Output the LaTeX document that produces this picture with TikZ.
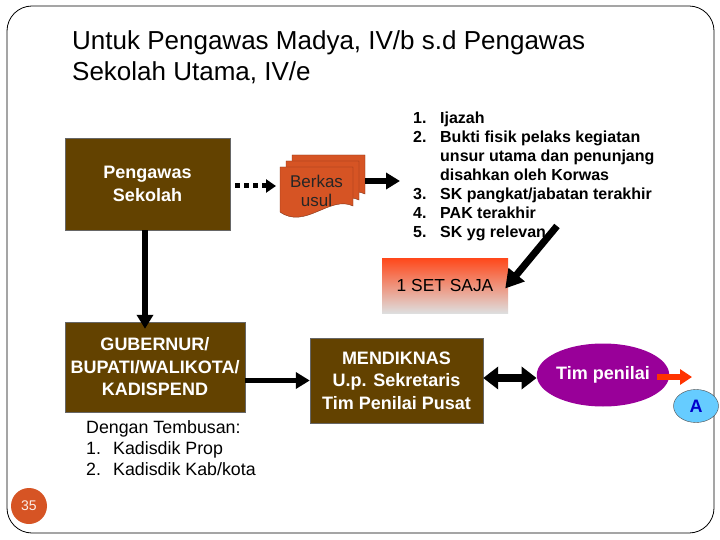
\documentclass[tikz,border=0pt]{standalone}
\usepackage{fontspec}
\setmainfont{Liberation Sans}
\usepackage{xcolor}
\usepackage{tikz}
\usetikzlibrary{arrows.meta,shapes.geometric}

\definecolor{coklat}{RGB}{99,66,0}
\definecolor{bata}{RGB}{214,84,36}
\definecolor{ungu}{RGB}{153,0,153}
\definecolor{biru}{RGB}{102,204,255}
\definecolor{merah}{RGB}{255,51,0}

\newcommand{\butir}[1]{\makebox[27pt][l]{#1}}

\begin{document}
\begin{tikzpicture}[x=1pt, y=-1pt,
    kotak/.style={draw=black!60, fill=coklat, text=white, align=center, inner sep=0pt,
        font=\bfseries\fontsize{18}{22.5}\selectfont},
    panah/.style={-{Triangle[length=14pt,width=16pt]}, line width=5.5pt},
    teks/.style={anchor=north west, align=left, inner sep=0pt}
]
\useasboundingbox[fill=white] (0,0) rectangle (720,540);
\draw[line width=0.8pt, rounded corners=25pt] (7,6) rectangle (714,533);

% judul
\node[teks, font=\fontsize{26}{31}\selectfont] (judul) at (72,30)
    {Untuk Pengawas Madya, IV/b s.d Pengawas\\Sekolah Utama, IV/e};

\node[kotak, minimum width=165pt, minimum height=92pt] (pengawas) at (147.5,184) {Pengawas\\Sekolah};

% berkas usul
\foreach \d in {12,6,0}
    \draw[fill=bata, draw=bata!60!black, shift={(\d,-\d)}]
        (280,167) -- (353,167) -- (353,206)
        .. controls (330,195) and (305,230) .. (280,212) -- cycle;
\node[font=\fontsize{17}{19.5}\selectfont, text=black!85, align=center,
      minimum width=73pt, minimum height=48pt, inner sep=0pt] (berkas) at (316.5,191) {Berkas\\usul};

\node[teks, font=\bfseries\fontsize{16}{19}\selectfont] (syarat) at (413,112) {%
\butir{1.}Ijazah\\
\butir{2.}Bukti fisik pelaks kegiatan\\
\butir{}unsur utama dan penunjang\\
\butir{}disahkan oleh Korwas\\
\butir{3.}SK pangkat/jabatan terakhir\\
\butir{4.}PAK terakhir\\
\butir{5.}SK yg relevan};

\node[shading=axis, top color=merah!90, bottom color=black!13, inner sep=0pt,
      minimum width=126pt, minimum height=55pt, font=\fontsize{17.4}{20}\selectfont] (set) at (445,285.5) {1 SET SAJA};

\node[kotak, minimum width=180pt, minimum height=90pt] (gubernur) at (155,367) {GUBERNUR/\\BUPATI/WALIKOTA/\\KADISPEND};

\node[teks, font=\fontsize{17.8}{21}\selectfont] (tembusan) at (86,420) {%
Dengan Tembusan:\\
\butir{1.}Kadisdik Prop\\
\butir{2.}Kadisdik Kab/kota};

\node[kotak, minimum width=173pt, minimum height=85pt] (mendiknas) at (396.5,380.5) {MENDIKNAS\\U.p. Sekretaris\\Tim Penilai Pusat};

\node[ellipse, fill=ungu, text=white, inner sep=0pt, minimum width=123pt, minimum height=63pt,
      font=\bfseries\fontsize{18}{20}\selectfont] (tim) at (603,375) {Tim penilai};

\node[ellipse, draw=black!70, fill=biru, text=blue!80!black, inner sep=0pt, minimum width=45pt, minimum height=33pt,
      font=\bfseries\fontsize{18}{20}\selectfont] (a) at (696,406) {A};

\node[circle, fill=bata, text=white!90!bata, minimum size=36pt, inner sep=0pt,
      font=\fontsize{14}{16}\selectfont] (hal) at (29,506) {35};

\coordinate (ujung) at (400,181);
\coordinate (pangkal) at (557,226);
\coordinate (keA) at (692,377);

% panah
\draw[-{Triangle[length=10pt,width=13pt]}, line width=5pt, dash pattern=on 5pt off 4pt, shorten <=5pt, shorten >=4pt]
    (pengawas.east |- 0,186) -- (280,186);
\draw[panah] ([xshift=12pt]berkas.east |- 0,181) -- (ujung);
\draw[-{Triangle[length=18pt,width=20pt]}, line width=7pt] (pangkal) -- ([xshift=-3pt,yshift=-3pt]set.east);
\draw[panah] (pengawas.south -| 145,0) -- ([yshift=-7pt]gubernur.north -| 145,0);
\draw[panah] (gubernur.east |- mendiknas.center) -- (mendiknas.west);
\draw[{Triangle[length=15pt,width=22pt]}-{Triangle[length=15pt,width=22pt]}, line width=8pt]
    (mendiknas.east |- 0,378) -- (tim.west |- 0,378);
\draw[-{Triangle[length=12pt,width=15pt]}, line width=6pt, merah] ([xshift=-12pt]tim.east |- 0,377) -- (keA);

\end{tikzpicture}
\end{document}
